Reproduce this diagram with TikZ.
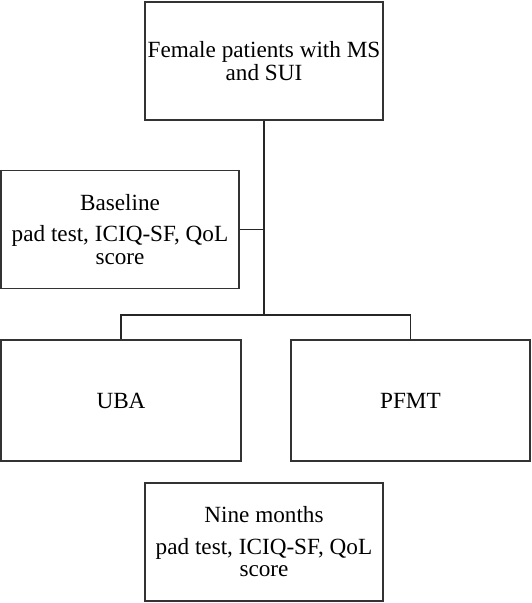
\documentclass[tikz,border=0pt]{standalone}
\usepackage{fontspec}
\setmainfont{Liberation Serif}
\usepackage{tikz}
\usetikzlibrary{positioning}

\begin{document}
\begin{tikzpicture}[x=1pt,y=-1pt,line width=1.5pt,
      box node/.style={rectangle,draw=black!80,line width=1.8pt,align=center,inner sep=0pt,
        font=\fontsize{23.2}{22.5}\selectfont,minimum width=238pt,minimum height=118pt}]
      \useasboundingbox (0,0) rectangle (531,603);
      \node[box node] (patients) at (264,61) {Female patients with MS\\and SUI};
      \node[box node] (baseline) at (120,229.5) {Baseline\\[9pt]pad test, ICIQ-SF, QoL\\score};
      \node[box node,minimum width=240pt,minimum height=121pt] (uba) at (121,400.5) {UBA};
      \node[box node,minimum width=239pt,minimum height=121pt] (pfmt) at (410.5,400.5) {PFMT};
      \node[box node] (nine) at (264,542) {Nine months\\[9pt]pad test, ICIQ-SF, QoL\\score};
      \coordinate (split) at (264,315);

      \draw[black!85] (patients.south) -- (split);
      \draw[black!85] (baseline.east) -- (baseline.east -| patients.south);
      \draw[black!85] (uba.north) |- (split) -| (pfmt.north);
    \end{tikzpicture}
\end{document}
